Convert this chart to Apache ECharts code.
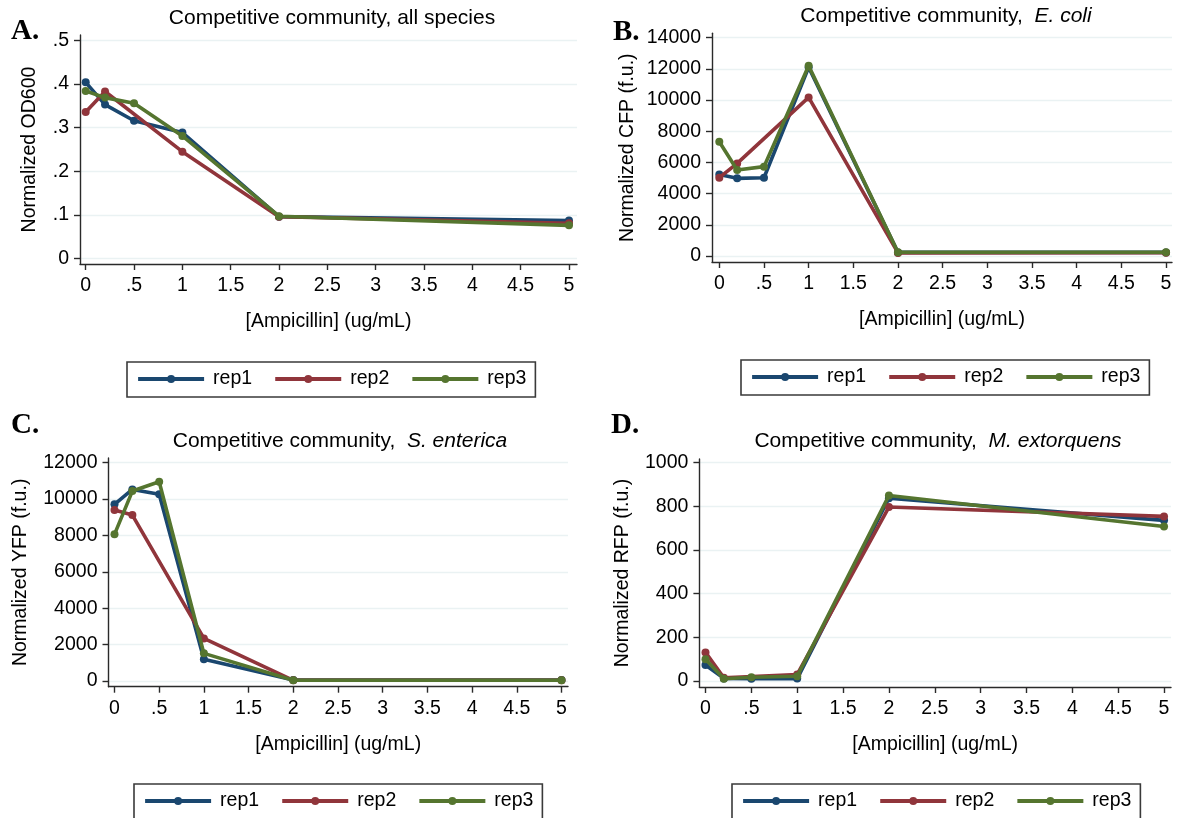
<!DOCTYPE html>
<html>
<head>
<meta charset="utf-8">
<title>Competitive community – ampicillin response</title>
<script src="https://cdn.jsdelivr.net/npm/echarts@6/dist/echarts.min.js"></script>
<style>
  html, body { margin: 0; padding: 0; background: #ffffff; }
  #chart { width: 1181px; height: 818px; }
</style>
</head>
<body>
<div id="chart"></div>
<script>
// Ampicillin concentrations (ug/mL) shared by every panel
const doses = [0, 0.2, 0.5, 1, 2, 5];
const repNames = ['rep1', 'rep2', 'rep3'];

// x axis ticks and labels
const xTicks = [0, 0.5, 1, 1.5, 2, 2.5, 3, 3.5, 4, 4.5, 5];
const xTickLabels = ['0', '.5', '1', '1.5', '2', '2.5', '3', '3.5', '4', '4.5', '5'];

// A. total density (OD600)
const odRep1 = [0.404, 0.353, 0.316, 0.289, 0.096, 0.087];
const odRep2 = [0.336, 0.383, null, 0.245, 0.096, 0.081];
const odRep3 = [0.384, 0.369, 0.356, 0.281, 0.097, 0.076];
const odTicks = [0, 0.1, 0.2, 0.3, 0.4, 0.5];
const odTickLabels = ['0', '.1', '.2', '.3', '.4', '.5'];

// B. E. coli (CFP)
const cfpRep1 = [5230, 4980, 5020, 12100, 230, 230];
const cfpRep2 = [5020, 5940, null, 10170, 200, 210];
const cfpRep3 = [7330, 5510, 5730, 12200, 240, 240];
const cfpTicks = [0, 2000, 4000, 6000, 8000, 10000, 12000, 14000];
const cfpTickLabels = ['0', '2000', '4000', '6000', '8000', '10000', '12000', '14000'];

// C. S. enterica (YFP)
const yfpRep1 = [9710, 10530, 10260, 1190, 50, 50];
const yfpRep2 = [9400, 9120, null, 2340, 40, 40];
const yfpRep3 = [8060, 10440, 10950, 1520, 40, 40];
const yfpTicks = [0, 2000, 4000, 6000, 8000, 10000, 12000];
const yfpTickLabels = ['0', '2000', '4000', '6000', '8000', '10000', '12000'];

// D. M. extorquens (RFP)
const rfpRep1 = [73, 12, 10, 11, 837, 736];
const rfpRep2 = [131, 15, null, 30, 797, 754];
const rfpRep3 = [100, 10, 17, 22, 850, 708];
const rfpTicks = [0, 200, 400, 600, 800, 1000];
const rfpTickLabels = ['0', '200', '400', '600', '800', '1000'];

const repColors = ['#1a476f', '#90353b', '#55752f'];
const FONT = 'Liberation Sans, Arial, sans-serif';
const INK = '#000000';
const AXIS = '#2a2a2a';

const panels = [
  {
    letter: 'A.', plain: 'Competitive community, all species', italic: '',
    yName: 'Normalized OD600', reps: [odRep1, odRep2, odRep3],
    yTicks: odTicks, yLabels: odTickLabels,
    grid: { left: 80, top: 35, width: 497, height: 229 },
    x: [-0.059, 5.083], y: [-0.0126, 0.5126], yGap: 40,
    title: [332, 18.5], letterPos: [11, 31.5], legend: [127, 362]
  },
  {
    letter: 'B.', plain: 'Competitive community,  ', italic: 'E. coli',
    yName: 'Normalized CFP (f.u.)', reps: [cfpRep1, cfpRep2, cfpRep3],
    yTicks: cfpTicks, yLabels: cfpTickLabels,
    grid: { left: 712, top: 33.3, width: 460, height: 228.7 },
    x: [-0.0817, 5.067], y: [-385, 14282], yGap: 74,
    title: [946, 16], letterPos: [613, 33], legend: [741, 360]
  },
  {
    letter: 'C.', plain: 'Competitive community,  ', italic: 'S. enterica',
    yName: 'Normalized YFP (f.u.)', reps: [yfpRep1, yfpRep2, yfpRep3],
    yTicks: yfpTicks, yLabels: yfpTickLabels,
    grid: { left: 108.5, top: 458, width: 459.5, height: 228.7 },
    x: [-0.067, 5.073], y: [-313, 12258], yGap: 78,
    title: [340, 441], letterPos: [11, 426], legend: [134, 784]
  },
  {
    letter: 'D.', plain: 'Competitive community,  ', italic: 'M. extorquens',
    yName: 'Normalized RFP (f.u.)', reps: [rfpRep1, rfpRep2, rfpRep3],
    yTicks: rfpTicks, yLabels: rfpTickLabels,
    grid: { left: 699.4, top: 459, width: 471.6, height: 228 },
    x: [-0.0665, 5.076], y: [-27.5, 1017], yGap: 67,
    title: [938, 441], letterPos: [611, 426], legend: [732, 784]
  }
];

function labelFor(ticks, labels) {
  return function (v) {
    const i = ticks.findIndex(t => Math.abs(t - v) < 1e-9);
    return i >= 0 ? labels[i] : '';
  };
}

function pairs(values) {
  return doses.map((d, i) => [d, values[i]]).filter(p => p[1] !== null);
}

const grids = [], xAxes = [], yAxes = [], series = [], legends = [], graphics = [];

panels.forEach((p, k) => {
  grids.push(Object.assign({ containLabel: false }, p.grid));

  xAxes.push({
    type: 'value', gridIndex: k, min: p.x[0], max: p.x[1],
    name: '[Ampicillin] (ug/mL)', nameLocation: 'middle', nameGap: 48,
    nameTextStyle: { fontFamily: FONT, fontSize: 19.5, color: INK },
    axisLine: { show: true, onZero: false, lineStyle: { color: AXIS, width: 1.4 } },
    axisTick: { show: true, length: 6, customValues: xTicks, lineStyle: { color: AXIS, width: 1.4 } },
    axisLabel: {
      customValues: xTicks, margin: 12, fontFamily: FONT, fontSize: 19.5, color: INK,
      formatter: labelFor(xTicks, xTickLabels)
    },
    splitLine: { show: false }
  });

  yAxes.push({
    type: 'value', gridIndex: k, min: p.y[0], max: p.y[1],
    name: p.yName, nameLocation: 'middle', nameGap: p.yGap,
    nameTextStyle: { fontFamily: FONT, fontSize: 19.5, color: INK },
    axisLine: { show: true, onZero: false, lineStyle: { color: AXIS, width: 1.4 } },
    axisTick: { show: true, length: 6, customValues: p.yTicks, lineStyle: { color: AXIS, width: 1.4 } },
    axisLabel: {
      customValues: p.yTicks, margin: 11, fontFamily: FONT, fontSize: 19.5, color: INK,
      formatter: labelFor(p.yTicks, p.yLabels)
    },
    splitLine: { show: true, lineStyle: { color: '#eaf2f3', width: 1.4 } }
  });

  p.reps.forEach((vals, r) => {
    series.push({
      name: repNames[r], type: 'line', xAxisIndex: k, yAxisIndex: k,
      data: pairs(vals),
      symbol: 'circle', symbolSize: 8, showSymbol: true,
      lineStyle: { color: repColors[r], width: 3.6 },
      itemStyle: { color: repColors[r] },
      emphasis: { disabled: true },
      animation: false, z: 2 + r
    });
  });

  legends.push({
    left: p.legend[0], top: p.legend[1], orient: 'horizontal',
    data: repNames, itemWidth: 66, itemHeight: 10, itemGap: 21,
    padding: [7, 9, 8, 9],
    borderColor: '#3a3a3a', borderWidth: 1.6, backgroundColor: '#ffffff',
    lineStyle: { width: 4.2 },
    textStyle: { fontFamily: FONT, fontSize: 19.5, color: INK, padding: [0, 0, 0, 4] },
    selectedMode: false
  });

  graphics.push({
    type: 'text', x: p.title[0], y: p.title[1],
    style: {
      text: p.italic ? '{n|' + p.plain + '}{i|' + p.italic + '}' : p.plain,
      rich: {
        n: { fontFamily: FONT, fontSize: 21, fill: INK },
        i: { fontFamily: FONT, fontSize: 21, fontStyle: 'italic', fill: INK }
      },
      fontFamily: FONT, fontSize: 21, fill: INK,
      align: 'center', verticalAlign: 'middle'
    }
  });
  graphics.push({
    type: 'text', x: p.letterPos[0], y: p.letterPos[1],
    style: {
      text: p.letter, fontFamily: 'Liberation Serif, Times New Roman, serif',
      fontSize: 29, fontWeight: 'bold', fill: '#000000',
      align: 'left', verticalAlign: 'middle'
    }
  });
});

const chart = echarts.init(document.getElementById('chart'), null, { renderer: 'canvas' });
chart.setOption({
  backgroundColor: '#ffffff',
  animation: false,
  grid: grids,
  xAxis: xAxes,
  yAxis: yAxes,
  legend: legends,
  series: series,
  graphic: graphics
});
</script>
</body>
</html>
